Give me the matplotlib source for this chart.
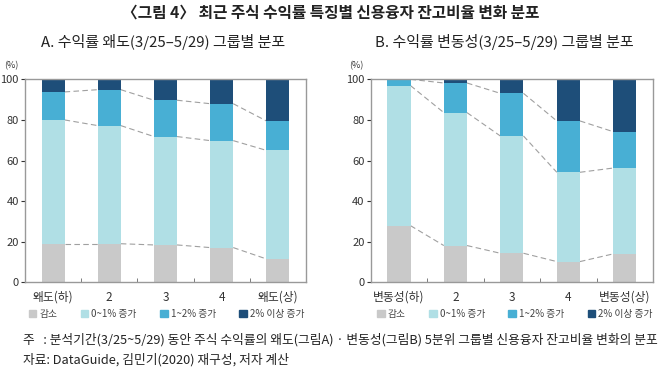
import matplotlib.pyplot as plt
import numpy as np

plt.rcParams['font.family'] = ['Noto Sans CJK KR', 'DejaVu Sans']

cats_a = ['왜도(하)', '2', '3', '4', '왜도(상)']
cats_b = ['변동성(하)', '2', '3', '4', '변동성(상)']
series = ['감소', '0~1% 증가', '1~2% 증가', '2% 이상 증가']
colors = ['#c9c9c9', '#b0dfe5', '#48afd4', '#1e4e79']

# shares (%) per group
dec_a = [19.0, 19.0, 18.4, 17.1, 11.5]
up01_a = [61.0, 58.2, 53.4, 52.7, 53.5]
up12_a = [13.8, 17.7, 17.9, 18.2, 14.5]
up2_a = [6.2, 5.1, 10.3, 12.0, 20.5]

dec_b = [27.9, 18.1, 14.3, 10.2, 14.0]
up01_b = [69.0, 65.5, 57.8, 44.0, 42.3]
up12_b = [3.1, 14.6, 21.0, 25.3, 17.9]
up2_b = [0.0, 1.8, 6.9, 20.5, 25.8]

fig = plt.figure(figsize=(6.66, 3.69), dpi=100)
ax_a = fig.add_axes([0.0375, 0.235, 0.422, 0.55])
ax_b = fig.add_axes([0.5566, 0.235, 0.424, 0.55])

w = 0.41


def panel(ax, cats, data, legend_x, pct_x):
    x = np.arange(len(cats))
    bottom = np.zeros(len(cats))
    tops = []
    for vals, c in zip(data, colors):
        ax.bar(x, vals, w, bottom=bottom, color=c, zorder=2)
        bottom = bottom + np.array(vals)
        tops.append(bottom.copy())
    # dashed connectors between bar segment boundaries
    for t in tops[:3]:
        for i in range(len(cats) - 1):
            ax.plot([x[i] + w / 2, x[i + 1] - w / 2], [t[i], t[i + 1]],
                    ls=(0, (5, 3)), color='#a0a0a0', lw=0.8, zorder=1)
    ax.set_xlim(-0.5, len(cats) - 0.5)
    ax.set_ylim(0, 100)
    ax.set_xticks(x)
    ax.set_xticklabels(cats, fontsize=8.5, color='#333333')
    ax.set_xticks(x[:-1] + 0.5, minor=True)
    ax.tick_params(axis='x', which='major', length=0, pad=6)
    ax.tick_params(axis='x', which='minor', direction='in', length=3,
                   color='#666666')
    ax.set_yticks([0, 20, 40, 60, 80, 100])
    ax.tick_params(axis='y', length=3, color='#333333', labelsize=8,
                   labelcolor='#333333', pad=1.5)
    for s in ax.spines.values():
        s.set_color('#999999')
        s.set_linewidth(1.0)
    fig.text(pct_x, 0.822, '(%)', fontsize=6.5, color='#333333',
             ha='left', va='center')
    handles = [plt.Rectangle((0, 0), 1, 1, color=c) for c in colors]
    fig.legend(handles, series, loc='center left',
               bbox_to_anchor=(legend_x, 0.149), ncol=4, frameon=False,
               fontsize=7, handlelength=0.8, handleheight=0.8,
               handletextpad=0.3, columnspacing=2.4, labelcolor='#444444',
               borderpad=0, borderaxespad=0)


panel(ax_a, cats_a, [dec_a, up01_a, up12_a, up2_a], 0.043, 0.006)
panel(ax_b, cats_b, [dec_b, up01_b, up12_b, up2_b], 0.566, 0.524)

fig.text(0.497, 0.967, '〈그림 4〉 최근 주식 수익률 특징별 신용융자 잔고비율 변화 분포',
         ha='center', va='center', fontsize=11.3, fontweight='bold', color='#222222')
fig.text(0.245, 0.885, 'A. 수익률 왜도(3/25–5/29) 그룹별 분포',
         ha='center', va='center', fontsize=10.8, color='#222222')
fig.text(0.757, 0.885, 'B. 수익률 변동성(3/25–5/29) 그룹별 분포',
         ha='center', va='center', fontsize=10.8, color='#222222')
fig.text(0.035, 0.078,
         '주   : 분석기간(3/25~5/29) 동안 주식 수익률의 왜도(그림A) · 변동성(그림B) 5분위 그룹별 신용융자 잔고비율 변화의 분포',
         ha='left', va='center', fontsize=9.2, color='#222222')
fig.text(0.035, 0.025, '자료: DataGuide, 김민기(2020) 재구성, 저자 계산',
         ha='left', va='center', fontsize=9.2, color='#222222')

fig.savefig('out.png', dpi=100)
